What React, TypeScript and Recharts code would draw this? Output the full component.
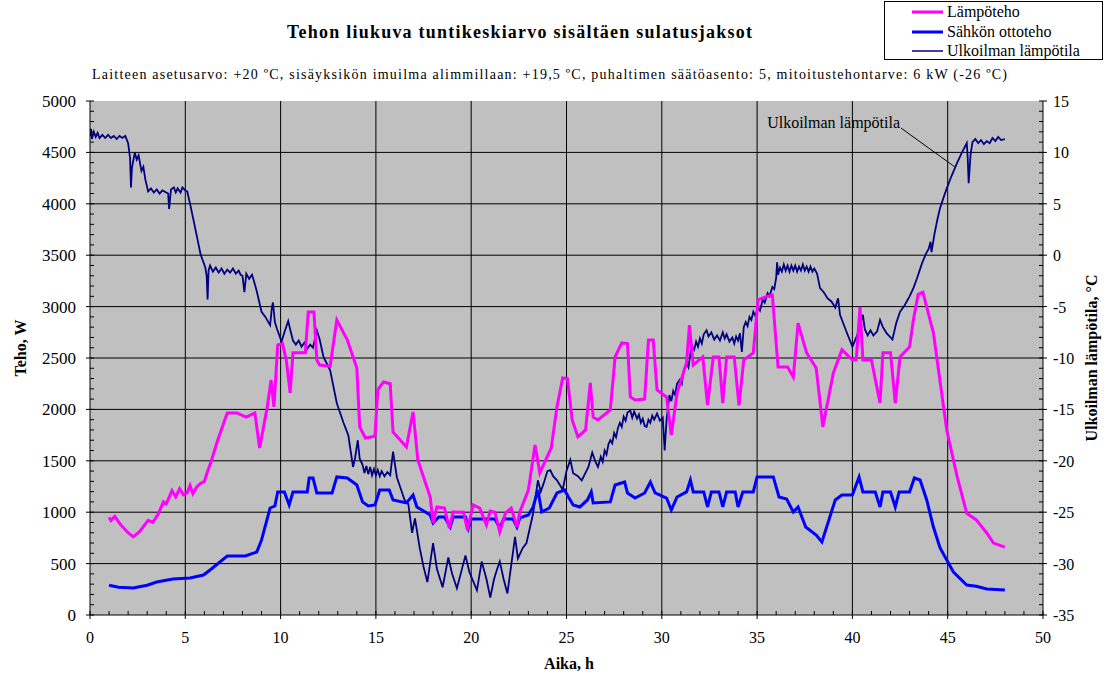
import React from 'react';
import { LineChart, Line, XAxis, YAxis, CartesianGrid, ReferenceLine, ReferenceDot } from 'recharts';

// Lämpöteho (W)
const heatTime = [1.0, 1.1, 1.3, 1.6, 2.0, 2.27, 2.6, 3.05, 3.3, 3.6, 3.85, 4.0, 4.3, 4.5, 4.7, 4.9, 5.1, 5.25, 5.4, 5.6, 5.8, 6.0, 6.1, 6.35, 6.7, 7.2, 7.7, 8.2, 8.65, 8.9, 9.3, 9.5, 9.65, 9.85, 10.1, 10.3, 10.5, 10.65, 11.3, 11.45, 11.75, 11.9, 12.05, 12.6, 12.95, 13.5, 14.0, 14.15, 14.45, 14.95, 15.1, 15.4, 15.75, 15.9, 16.6, 16.95, 17.2, 17.85, 18.0, 18.2, 18.6, 18.85, 19.05, 19.6, 19.8, 20.1, 20.45, 20.8, 21.0, 21.25, 21.5, 21.8, 22.1, 22.4, 22.55, 23.0, 23.35, 23.6, 24.2, 24.5, 24.8, 25.05, 25.3, 25.6, 26.0, 26.25, 26.4, 26.65, 27.3, 27.55, 27.9, 28.2, 28.35, 28.6, 29.1, 29.3, 29.55, 29.75, 30.25, 30.5, 30.8, 31.3, 31.45, 31.65, 32.15, 32.4, 32.7, 33.0, 33.2, 33.4, 33.8, 34.05, 34.3, 34.8, 35.05, 35.5, 35.8, 36.1, 36.6, 36.9, 37.15, 37.6, 38.1, 38.45, 39.0, 39.45, 40.0, 40.2, 40.4, 40.55, 41.0, 41.45, 41.6, 42.0, 42.25, 42.5, 43.0, 43.2, 43.45, 43.7, 44.25, 44.95, 45.5, 46.0, 46.5, 47.05, 47.4, 48.0];
const heatW = [950, 920, 960, 880, 800, 760, 810, 920, 900, 990, 1100, 1080, 1210, 1150, 1230, 1170, 1190, 1260, 1180, 1245, 1280, 1300, 1360, 1490, 1700, 1966, 1966, 1926, 1966, 1625, 2024, 2287, 2024, 2627, 2640, 2480, 2160, 2550, 2550, 2948, 2948, 2480, 2432, 2420, 2870, 2676, 2403, 1830, 1722, 1740, 2190, 2267, 2250, 1780, 1635, 1975, 1508, 1148, 895, 1051, 1041, 846, 1002, 1000, 827, 1070, 1040, 876, 1012, 1000, 808, 992, 1040, 856, 1002, 1216, 1654, 1382, 1625, 2024, 2306, 2300, 1897, 1732, 1800, 2257, 1926, 1897, 1995, 2510, 2647, 2640, 2121, 2092, 2101, 2676, 2676, 2190, 2121, 1750, 2160, 2452, 2820, 2432, 2510, 2043, 2510, 2510, 2060, 2510, 2510, 2040, 2480, 2550, 3065, 3100, 3113, 2413, 2413, 2315, 2840, 2550, 2403, 1830, 2355, 2580, 2480, 2480, 2997, 2480, 2480, 2063, 2550, 2550, 2060, 2510, 2608, 2870, 3120, 3140, 2745, 1800, 1343, 990, 925, 798, 700, 660];

// Sähkön ottoteho (W)
const elecTime = [1.0, 1.5, 2.27, 3.0, 3.5, 4.35, 5.25, 5.95, 6.3, 7.2, 8.15, 8.75, 9.0, 9.45, 9.7, 9.85, 10.2, 10.45, 10.65, 11.4, 11.5, 11.7, 11.9, 12.7, 12.95, 13.5, 14.0, 14.3, 14.6, 14.95, 15.2, 15.7, 15.9, 16.6, 16.95, 17.15, 17.85, 18.0, 18.3, 18.6, 18.9, 19.05, 19.7, 19.85, 20.0, 21.25, 21.5, 21.7, 22.2, 22.4, 22.55, 23.0, 23.25, 23.5, 23.7, 24.1, 24.5, 24.9, 25.1, 25.35, 25.7, 26.1, 26.3, 26.4, 27.3, 27.55, 28.05, 28.2, 28.6, 29.1, 29.4, 29.65, 30.25, 30.5, 30.8, 31.3, 31.5, 31.65, 32.2, 32.4, 32.6, 33.0, 33.2, 33.4, 33.85, 34.0, 34.25, 34.8, 35.0, 35.85, 36.15, 36.55, 36.9, 37.15, 37.55, 38.1, 38.4, 39.1, 39.45, 40.0, 40.35, 40.55, 41.2, 41.45, 41.6, 42.0, 42.25, 42.45, 43.0, 43.25, 43.55, 43.9, 44.25, 44.6, 45.3, 46.0, 46.5, 47.05, 48.0];
const elecW = [290, 270, 263, 290, 321, 350, 360, 389, 438, 574, 574, 613, 730, 1041, 1060, 1197, 1197, 1070, 1197, 1197, 1333, 1333, 1187, 1187, 1343, 1333, 1265, 1100, 1060, 1070, 1216, 1216, 1119, 1090, 1167, 1051, 973, 895, 953, 953, 856, 953, 953, 846, 934, 934, 846, 934, 934, 856, 944, 973, 1051, 1216, 1002, 1041, 1187, 1216, 1148, 1070, 1051, 1119, 1197, 1090, 1100, 1265, 1294, 1187, 1138, 1187, 1294, 1187, 1138, 1022, 1148, 1197, 1313, 1197, 1197, 1051, 1197, 1197, 1051, 1197, 1197, 1051, 1197, 1197, 1343, 1343, 1148, 1128, 1002, 1051, 856, 778, 710, 1119, 1167, 1167, 1343, 1197, 1197, 1051, 1197, 1197, 1051, 1197, 1197, 1333, 1313, 1119, 856, 652, 418, 292, 280, 253, 243];

// Ulkoilman lämpötila (°C): [aika h, lämpötila °C]
const tempPoints: [number, number][] = [
  [0.0, 11.6], [0.05, 12.3], [0.1, 11.3], [0.2, 12.0], [0.3, 11.5], [0.4, 11.9], [0.5, 11.4], [0.65, 11.7], [0.8, 11.4], [0.95, 11.7],
  [1.1, 11.4], [1.25, 11.6], [1.4, 11.3], [1.55, 11.6], [1.7, 11.4], [1.85, 11.6], [2.0, 10.9], [2.1, 9.5], [2.15, 6.6], [2.2, 8.5],
  [2.35, 10.0], [2.45, 9.3], [2.55, 9.7], [2.7, 8.2], [2.8, 8.6], [2.9, 7.4], [3.05, 6.2], [3.2, 6.5], [3.35, 6.1], [3.5, 6.4],
  [3.65, 6.0], [3.8, 6.3], [4.0, 6.1], [4.1, 6.0], [4.15, 4.5], [4.25, 6.4], [4.4, 6.6], [4.5, 6.1], [4.6, 6.5], [4.75, 6.1],
  [4.85, 6.6], [5.0, 6.3], [5.1, 6.2], [5.25, 5.0], [5.5, 2.8], [5.8, 0.1], [6.05, -1.2], [6.12, -2.0], [6.17, -4.3], [6.22, -1.5],
  [6.3, -1.0], [6.45, -1.6], [6.6, -1.2], [6.75, -1.7], [6.9, -1.3], [7.05, -1.8], [7.2, -1.4], [7.35, -1.7], [7.5, -1.3], [7.65, -1.8],
  [7.8, -1.5], [7.9, -1.9], [8.0, -2.0], [8.1, -3.6], [8.2, -1.8], [8.35, -2.3], [8.5, -1.9], [8.6, -2.5], [8.75, -3.5], [9.0, -5.5],
  [9.2, -6.0], [9.45, -6.8], [9.55, -5.0], [9.6, -4.6], [9.7, -6.5], [9.8, -7.1], [10.05, -8.4], [10.2, -7.5], [10.4, -6.4], [10.5, -7.2],
  [10.65, -8.3], [10.8, -8.7], [10.95, -8.3], [11.1, -8.9], [11.25, -8.5], [11.4, -9.1], [11.55, -8.7], [11.7, -9.0], [11.9, -7.3], [12.05, -8.2],
  [12.25, -9.9], [12.6, -11.2], [12.95, -14.4], [13.3, -16.3], [13.55, -17.5], [13.8, -20.6], [13.9, -19.8], [14.05, -18.0], [14.15, -19.8], [14.3, -20.4],
  [14.4, -21.2], [14.5, -20.5], [14.6, -21.3], [14.7, -20.6], [14.8, -21.4], [14.9, -20.8], [15.0, -21.4], [15.1, -20.9], [15.2, -21.5], [15.3, -21.0],
  [15.45, -21.5], [15.6, -21.1], [15.75, -21.4], [15.9, -19.1], [16.1, -21.6], [16.3, -22.7], [16.5, -23.8], [16.7, -24.2], [16.9, -27.0], [17.05, -25.6],
  [17.3, -28.5], [17.5, -30.3], [17.7, -31.8], [18.0, -28.0], [18.2, -30.5], [18.5, -32.3], [18.8, -29.4], [19.0, -31.0], [19.25, -32.4], [19.7, -29.2],
  [19.9, -30.8], [20.3, -32.6], [20.55, -29.8], [20.8, -31.5], [21.0, -33.3], [21.2, -31.5], [21.35, -30.6], [21.5, -29.8], [21.7, -31.5], [21.9, -32.9],
  [22.3, -27.4], [22.45, -29.5], [22.7, -28.5], [22.9, -28.0], [23.25, -25.1], [23.5, -21.9], [23.65, -23.0], [23.8, -22.2], [24.0, -21.0], [24.15, -20.9],
  [24.3, -21.5], [24.5, -21.9], [24.8, -22.8], [25.0, -21.0], [25.2, -19.9], [25.35, -21.2], [25.6, -21.5], [25.8, -21.9], [26.15, -20.6], [26.35, -19.2],
  [26.5, -20.0], [26.65, -20.6], [26.8, -19.6], [26.9, -20.1], [27.0, -19.0], [27.1, -19.4], [27.2, -18.4], [27.3, -18.0], [27.4, -18.3], [27.5, -17.3],
  [27.6, -17.7], [27.7, -16.8], [27.8, -16.3], [27.9, -16.7], [28.0, -15.7], [28.1, -16.1], [28.2, -15.3], [28.35, -15.1], [28.45, -15.8], [28.55, -15.2],
  [28.7, -15.9], [28.8, -15.5], [28.9, -16.3], [29.0, -15.9], [29.1, -16.6], [29.2, -16.7], [29.3, -16.0], [29.4, -16.3], [29.5, -15.6], [29.6, -16.0],
  [29.75, -15.4], [29.9, -16.1], [30.05, -15.8], [30.15, -19.0], [30.25, -16.0], [30.4, -13.6], [30.5, -14.2], [30.6, -13.2], [30.7, -13.6], [30.8, -12.5],
  [30.95, -12.1], [31.05, -12.5], [31.15, -11.2], [31.3, -10.5], [31.4, -10.9], [31.5, -9.5], [31.6, -8.9], [31.7, -9.2], [31.8, -8.4], [31.9, -8.9],
  [32.0, -8.1], [32.1, -8.6], [32.2, -7.7], [32.35, -7.3], [32.45, -7.9], [32.6, -7.5], [32.75, -8.2], [32.9, -7.8], [33.05, -8.3], [33.2, -7.5],
  [33.3, -8.1], [33.4, -7.7], [33.55, -8.4], [33.7, -8.0], [33.8, -8.6], [33.9, -7.9], [34.0, -8.3], [34.1, -7.6], [34.2, -9.4], [34.3, -7.0],
  [34.4, -6.5], [34.5, -6.9], [34.6, -6.0], [34.7, -6.3], [34.8, -5.5], [34.9, -5.9], [35.05, -5.1], [35.15, -5.4], [35.3, -4.3], [35.4, -4.6],
  [35.55, -3.7], [35.65, -4.0], [35.8, -3.1], [35.9, -3.3], [36.0, -2.2], [36.05, -0.7], [36.1, -1.9], [36.2, -1.2], [36.3, -1.6], [36.4, -0.9],
  [36.5, -1.5], [36.6, -1.0], [36.7, -1.6], [36.8, -1.0], [36.9, -1.5], [37.0, -1.0], [37.1, -1.6], [37.2, -1.1], [37.3, -1.5], [37.4, -0.9],
  [37.5, -1.5], [37.6, -1.1], [37.7, -1.6], [37.8, -1.1], [37.9, -1.6], [38.0, -1.3], [38.15, -1.8], [38.3, -3.2], [38.5, -3.6], [38.7, -4.2],
  [38.9, -4.5], [39.1, -5.1], [39.25, -4.2], [39.35, -5.8], [39.7, -7.5], [40.0, -8.9], [40.25, -7.8], [40.55, -5.8], [40.65, -7.2], [40.8, -7.8],
  [40.95, -7.3], [41.1, -7.8], [41.3, -7.4], [41.45, -6.3], [41.6, -7.0], [41.8, -7.6], [41.95, -7.9], [42.1, -8.2], [42.3, -6.6], [42.5, -5.5],
  [42.7, -5.0], [42.85, -4.5], [43.0, -4.0], [43.2, -3.2], [43.4, -2.2], [43.65, -0.8], [43.85, 0.1], [44.0, 0.6], [44.1, 1.3], [44.15, 0.3],
  [44.3, 2.0], [44.45, 3.4], [44.6, 4.6], [44.8, 5.7], [44.95, 6.5], [45.2, 7.7], [45.5, 9.0], [45.75, 10.0], [46.0, 10.9], [46.05, 9.5],
  [46.1, 7.0], [46.2, 9.8], [46.3, 11.0], [46.45, 11.3], [46.6, 10.9], [46.75, 11.2], [46.9, 10.8], [47.05, 11.1], [47.2, 10.9], [47.35, 11.4],
  [47.5, 11.1], [47.65, 11.5], [47.8, 11.2], [48.0, 11.3],
];

const xTicks = Array.from({ length: 51 }, (_, i) => i);
const leftTicks = Array.from({ length: 51 }, (_, i) => i * 100);
const rightTicks = Array.from({ length: 51 }, (_, i) => i - 35);
const gridX = [5, 10, 15, 20, 25, 30, 35, 40, 45];
const gridY = [500, 1000, 1500, 2000, 2500, 3000, 3500, 4000, 4500];

const heatData = heatTime.map((h, i) => ({ h, v: heatW[i] }));
const elecData = elecTime.map((h, i) => ({ h, v: elecW[i] }));
const tempData = tempPoints.map(([h, t]) => ({ h, v: t }));

const FONT = '"Liberation Serif", "Times New Roman", serif';

const XTick = (props: any) => {
  const { x, y, payload } = props;
  const v = payload.value;
  const major = v % 5 === 0;
  return (
    <g>
      <line x1={x} x2={x} y1={major ? y + 4 : y} y2={y - 4} stroke="#000" />
      {major && (
        <text x={x} y={y + 28} textAnchor="middle" fontSize={16} fontFamily={FONT} fill="#000">{v}</text>
      )}
    </g>
  );
};

const LeftTick = (props: any) => {
  const { x, y, payload } = props;
  const v = payload.value;
  const major = v % 500 === 0;
  return (
    <g>
      <line x1={major ? x - 4 : x} x2={x + 4} y1={y} y2={y} stroke="#000" />
      {major && (
        <text x={x - 14} y={y + 6} textAnchor="end" fontSize={17} fontFamily={FONT} fill="#000">{v}</text>
      )}
    </g>
  );
};

const RightTick = (props: any) => {
  const { x, y, payload } = props;
  const v = payload.value;
  const major = v % 5 === 0;
  return (
    <g>
      <line x1={x - 4} x2={major ? x + 4 : x} y1={y} y2={y} stroke="#000" />
      {major && (
        <text x={x + 10} y={y + 6} textAnchor="start" fontSize={16} fontFamily={FONT} fill="#000">{v}</text>
      )}
    </g>
  );
};

const AnnotationText = (props: any) => (
  <text x={props.cx} y={props.cy} textAnchor="end" fontSize={16} fontFamily={FONT} fill="#000">Ulkoilman lämpötila</text>
);

export default function App() {
  return (
    <div style={{ position: 'absolute', left: 0, top: 0, width: 1108, height: 674, background: '#fff' }}>
      <LineChart width={1108} height={674} margin={{ top: 101, right: 20, bottom: 29, left: 40 }}>
        <CartesianGrid
          yAxisId="left"
          fill="#c0c0c0"
          fillOpacity={1}
          stroke="#000"
          strokeWidth={1}
          horizontalValues={gridY}
          verticalValues={gridX}
        />
        <XAxis
          type="number"
          dataKey="h"
          domain={[0, 50]}
          ticks={xTicks}
          interval={0}
          tick={<XTick />}
          tickLine={false}
          tickSize={0}
          tickMargin={0}
          height={30}
          axisLine={{ stroke: '#000' }}
          allowDataOverflow
        />
        <YAxis
          yAxisId="left"
          type="number"
          domain={[0, 5000]}
          ticks={leftTicks}
          interval={0}
          tick={<LeftTick />}
          tickLine={false}
          tickSize={0}
          tickMargin={0}
          width={50}
          axisLine={{ stroke: '#000' }}
          allowDataOverflow
        />
        <YAxis
          yAxisId="right"
          orientation="right"
          type="number"
          domain={[-35, 15]}
          ticks={rightTicks}
          interval={0}
          tick={<RightTick />}
          tickLine={false}
          tickSize={0}
          tickMargin={0}
          width={45}
          axisLine={{ stroke: '#000' }}
          allowDataOverflow
        />
        <Line yAxisId="right" data={tempData} dataKey="v" type="linear" stroke="#000080" strokeWidth={1.8} dot={false} isAnimationActive={false} />
        <Line yAxisId="left" data={elecData} dataKey="v" type="linear" stroke="#0000ff" strokeWidth={3} dot={false} isAnimationActive={false} />
        <Line yAxisId="left" data={heatData} dataKey="v" type="linear" stroke="#ff00ff" strokeWidth={3} dot={false} isAnimationActive={false} />
        <ReferenceLine
          yAxisId="right"
          segment={[{ x: 42.55, y: 12.37 }, { x: 45.38, y: 8.58 }]}
          stroke="#000"
          strokeWidth={1}
        />
        <ReferenceDot yAxisId="right" x={42.5} y={12.35} r={0} shape={<AnnotationText />} />
      </LineChart>
      <svg width={1108} height={674} style={{ position: 'absolute', left: 0, top: 0, pointerEvents: 'none' }}>
        <text x={287} y={38} fontSize={18} fontWeight="bold" fontFamily={FONT} textLength={465} lengthAdjust="spacing">Tehon liukuva tuntikeskiarvo sisältäen sulatusjaksot</text>
        <text x={92} y={79} fontSize={14} fontFamily={FONT} textLength={915} lengthAdjust="spacing">Laitteen asetusarvo: +20 ºC, sisäyksikön imuilma alimmillaan: +19,5 ºC, puhaltimen säätöasento: 5, mitoitustehontarve: 6 kW (-26 ºC)</text>
        <text x={0} y={0} transform="translate(26,348) rotate(-90)" textAnchor="middle" fontSize={16} fontWeight="bold" fontFamily={FONT}>Teho, W</text>
        <text x={0} y={0} transform="translate(1097,358) rotate(-90)" textAnchor="middle" fontSize={16} fontWeight="bold" fontFamily={FONT}>Ulkoilman lämpötila, °C</text>
        <text x={569} y={669} textAnchor="middle" fontSize={16} fontWeight="bold" fontFamily={FONT}>Aika, h</text>
        <rect x={884.5} y={1.5} width={218} height={58} fill="#fff" stroke="#000" strokeWidth={1} />
        <line x1={912} x2={943} y1={12} y2={12} stroke="#ff00ff" strokeWidth={3} />
        <line x1={912} x2={943} y1={32} y2={32} stroke="#0000ff" strokeWidth={3} />
        <line x1={912} x2={943} y1={51} y2={51} stroke="#000080" strokeWidth={1.5} />
        <text x={947} y={17} fontSize={16} fontFamily={FONT}>Lämpöteho</text>
        <text x={947} y={37} fontSize={16} fontFamily={FONT}>Sähkön ottoteho</text>
        <text x={947} y={56} fontSize={16} fontFamily={FONT}>Ulkoilman lämpötila</text>
      </svg>
    </div>
  );
}
